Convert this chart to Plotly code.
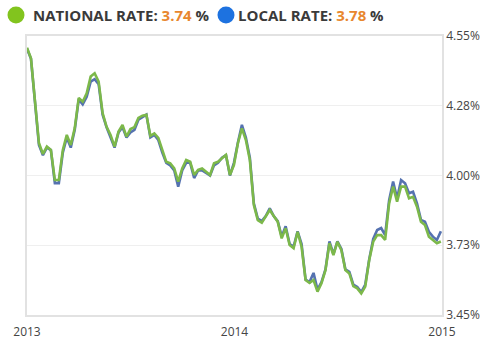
import pandas as pd
import plotly.graph_objects as go

dates = pd.date_range("2013-01-01", periods=105, freq="7D")

national = [4.504, 4.462, 4.294, 4.128, 4.085, 4.114, 4.101, 3.982, 3.982, 4.101,
            4.160, 4.120, 4.187, 4.306, 4.291, 4.324, 4.390, 4.403, 4.370, 4.246,
            4.192, 4.160, 4.114, 4.173, 4.199, 4.153, 4.183, 4.191, 4.227, 4.236,
            4.239, 4.156, 4.166, 4.148, 4.101, 4.054, 4.048, 4.028, 3.976, 4.028,
            4.061, 4.054, 4.002, 4.022, 4.028, 4.015, 4.002, 4.048, 4.054, 4.068,
            4.081, 4.002, 4.041, 4.127, 4.186, 4.140, 4.061, 3.884, 3.824, 3.814,
            3.840, 3.864, 3.840, 3.818, 3.752, 3.792, 3.726, 3.713, 3.778, 3.719,
            3.588, 3.577, 3.588, 3.542, 3.575, 3.627, 3.733, 3.686, 3.739, 3.706,
            3.627, 3.614, 3.564, 3.555, 3.535, 3.562, 3.667, 3.739, 3.765, 3.765,
            3.746, 3.890, 3.956, 3.897, 3.956, 3.956, 3.910, 3.916, 3.877, 3.818,
            3.805, 3.759, 3.746, 3.733, 3.740]

local = [4.500, 4.460, 4.290, 4.120, 4.080, 4.110, 4.100, 3.970, 3.970, 4.090,
         4.150, 4.110, 4.180, 4.300, 4.280, 4.310, 4.370, 4.380, 4.360, 4.240,
         4.190, 4.150, 4.110, 4.170, 4.190, 4.150, 4.170, 4.180, 4.220, 4.230,
         4.240, 4.150, 4.160, 4.140, 4.090, 4.050, 4.040, 4.020, 3.956, 4.020,
         4.050, 4.050, 3.990, 4.020, 4.020, 4.010, 4.000, 4.040, 4.050, 4.070,
         4.080, 4.000, 4.050, 4.130, 4.200, 4.150, 4.070, 3.890, 3.830, 3.820,
         3.840, 3.870, 3.840, 3.820, 3.760, 3.800, 3.730, 3.720, 3.780, 3.730,
         3.590, 3.580, 3.616, 3.550, 3.580, 3.630, 3.740, 3.690, 3.740, 3.710,
         3.630, 3.620, 3.570, 3.560, 3.540, 3.570, 3.670, 3.750, 3.785, 3.793,
         3.765, 3.903, 3.976, 3.910, 3.982, 3.969, 3.930, 3.936, 3.890, 3.825,
         3.818, 3.778, 3.759, 3.746, 3.780]

y_ticks = [3.45, 3.725, 4.0, 4.275, 4.55]
y_tick_labels = ["3.45%", "3.73%", "4.00%", "4.28%", "4.55%"]
x_ticks = ["2013-01-01", "2014-01-01", "2015-01-01"]
x_tick_labels = ["2013", "2014", "2015"]

national_label = "3.74"
local_label = "3.78"

fig = go.Figure()
fig.add_trace(go.Scatter(x=dates, y=local, mode="lines",
                         line=dict(color="#5572b0", width=2.6), hoverinfo="skip"))
fig.add_trace(go.Scatter(x=dates, y=national, mode="lines",
                         line=dict(color="#7cb84a", width=2.6), hoverinfo="skip"))

W, H = 495, 354
L, R, T, B = 27, 53, 36, 39
pw, ph = W - L - R, H - T - B

def px_x(x):
    return (x - L) / pw

def px_y(y):
    return (H - B - y) / ph

fig.update_layout(
    width=W, height=H,
    margin=dict(l=L, r=R, t=T, b=B),
    paper_bgcolor="white", plot_bgcolor="white",
    showlegend=False,
    font=dict(family="Open Sans", color="#444"),
    xaxis=dict(range=["2013-01-01", "2015-01-01"], tickvals=x_ticks, ticktext=x_tick_labels,
               showgrid=False, zeroline=False, showline=True, linecolor="#e2e2e2", linewidth=1.5,
               mirror=True, ticks="", ticklabelstandoff=5, tickfont=dict(size=12, color="#444")),
    yaxis=dict(range=[3.45, 4.55], tickvals=y_ticks, ticktext=y_tick_labels, side="right",
               showgrid=True, gridcolor="#efefef", zeroline=False, showline=True,
               linecolor="#e2e2e2", linewidth=1.5, mirror=True, ticks="",
               tickfont=dict(size=12, color="#444")),
)

fig.add_shape(type="circle", xref="paper", yref="paper", xsizemode="pixel", ysizemode="pixel",
              xanchor=px_x(16), yanchor=px_y(15), x0=-8.5, x1=8.5, y0=-8.5, y1=8.5,
              fillcolor="#82c41e", line=dict(width=0))
fig.add_shape(type="circle", xref="paper", yref="paper", xsizemode="pixel", ysizemode="pixel",
              xanchor=px_x(226), yanchor=px_y(15), x0=-8.5, x1=8.5, y0=-8.5, y1=8.5,
              fillcolor="#1d72e0", line=dict(width=0))

fig.add_annotation(xref="paper", yref="paper", x=px_x(31), y=px_y(15), xanchor="left", yanchor="middle",
                   showarrow=False,
                   text="<b>NATIONAL RATE: <span style='color:#e8872e'>" + national_label + "</span> %</b>",
                   font=dict(family="Open Sans", size=15, color="#3a3a3a"))
fig.add_annotation(xref="paper", yref="paper", x=px_x(236), y=px_y(15), xanchor="left", yanchor="middle",
                   showarrow=False,
                   text="<b>LOCAL RATE: <span style='color:#e8872e'>" + local_label + "</span> %</b>",
                   font=dict(family="Open Sans", size=15, color="#3a3a3a"))

fig.write_html("out.html")
